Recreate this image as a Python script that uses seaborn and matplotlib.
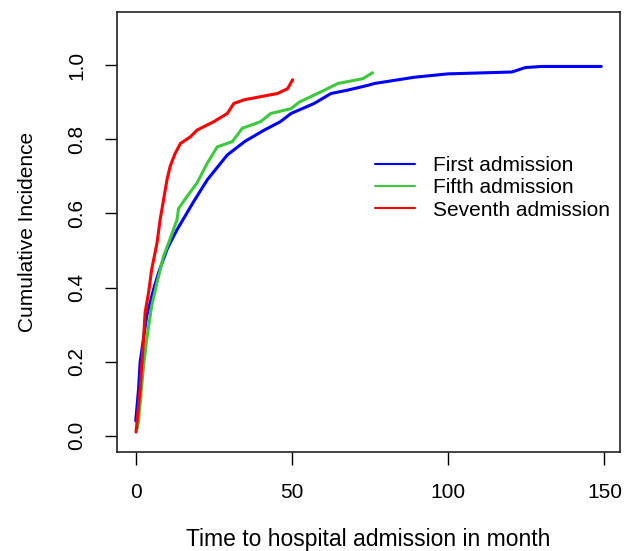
import pandas as pd
import matplotlib.pyplot as plt
import seaborn as sns

sns.set_style('white')
plt.rcParams['font.family'] = ['Liberation Sans', 'DejaVu Sans']
plt.rcParams['text.color'] = 'black'
plt.rcParams['axes.labelcolor'] = 'black'
plt.rcParams['xtick.color'] = 'black'
plt.rcParams['ytick.color'] = 'black'

# ---- curve values (time in months, cumulative incidence) ----
first_t = [0, 0.9, 1.4, 3.5, 5.7, 7.3, 10, 11.6, 13.2, 18.6, 22.9, 29.3, 35, 41.1, 46.3,
           49.7, 57.1, 62.5, 67.8, 74.3, 76.4, 89.3, 100, 120.4, 124.7, 130, 149]
first_ci = [0.04, 0.126, 0.198, 0.323, 0.395, 0.44, 0.503, 0.53, 0.556, 0.633, 0.691, 0.758,
            0.795, 0.825, 0.848, 0.870, 0.897, 0.924, 0.933, 0.946, 0.951, 0.968, 0.977,
            0.982, 0.994, 0.997, 0.997]

fifth_t = [0.5, 0.9, 2.5, 3.5, 5.1, 6.8, 8.9, 10.5, 13.2, 13.7, 16.4, 19.6, 22.9, 26.1,
           30.9, 34.1, 40, 43.2, 49.7, 52.4, 60.4, 64.7, 72.7, 75.8]
fifth_ci = [0.02, 0.041, 0.189, 0.26, 0.35, 0.413, 0.485, 0.52, 0.583, 0.613, 0.646, 0.682,
            0.736, 0.78, 0.794, 0.83, 0.848, 0.87, 0.883, 0.901, 0.933, 0.951, 0.964, 0.98]

seventh_t = [0.1, 1.4, 2.5, 3.0, 4.1, 5.1, 6.8, 7.8, 8.9, 10, 11, 12.6, 14.3, 17.5, 19.6,
             25, 29.3, 31.4, 34.7, 45.4, 48.6, 50.2]
seventh_ci = [0.01, 0.126, 0.26, 0.333, 0.386, 0.449, 0.52, 0.583, 0.637, 0.691, 0.727,
              0.762, 0.789, 0.807, 0.825, 0.848, 0.87, 0.897, 0.907, 0.924, 0.937, 0.961]

groups = ['First admission', 'Fifth admission', 'Seventh admission']
colors = ['#0000FF', '#3DC93D', '#FF0000']

df = pd.concat([
    pd.DataFrame({'time': first_t, 'ci': first_ci, 'group': groups[0]}),
    pd.DataFrame({'time': fifth_t, 'ci': fifth_ci, 'group': groups[1]}),
    pd.DataFrame({'time': seventh_t, 'ci': seventh_ci, 'group': groups[2]}),
], ignore_index=True)

fig = plt.figure(figsize=(6.28, 5.51), dpi=100)
ax = fig.add_axes([117 / 628, 1 - 452 / 551, 503 / 628, 440 / 551])

sns.lineplot(data=df, x='time', y='ci', hue='group', hue_order=groups,
             palette=colors, estimator=None, sort=False, linewidth=2.2, ax=ax)

ax.set_xlim(-6, 155)
ax.set_ylim(-0.044, 1.144)
ax.set_xticks([0, 50, 100, 150])
ax.set_yticks([0.0, 0.2, 0.4, 0.6, 0.8, 1.0])
ax.set_yticklabels(['0.0', '0.2', '0.4', '0.6', '0.8', '1.0'], rotation=90, va='center')
ax.tick_params(axis='both', direction='out', length=9, width=1, color='black',
               labelcolor='black', labelsize=15, pad=13, left=True, bottom=True)
for s in ax.spines.values():
    s.set_color('#222222')
    s.set_linewidth(1.2)

ax.set_xlabel('Time to hospital admission in month', fontsize=16.5)
ax.set_ylabel('Cumulative Incidence', fontsize=15)
ax.xaxis.set_label_coords(0.5, -0.172)
ax.yaxis.set_label_coords(-0.16, 0.5)

leg = ax.legend(loc='upper left', bbox_to_anchor=(0.513, 0.672), frameon=False,
                fontsize=15, handlelength=1.9, handletextpad=0.9, labelspacing=0.15,
                borderpad=0, borderaxespad=0)
for line in leg.get_lines():
    line.set_linewidth(1.5)

plt.savefig('out.png', dpi=100)
